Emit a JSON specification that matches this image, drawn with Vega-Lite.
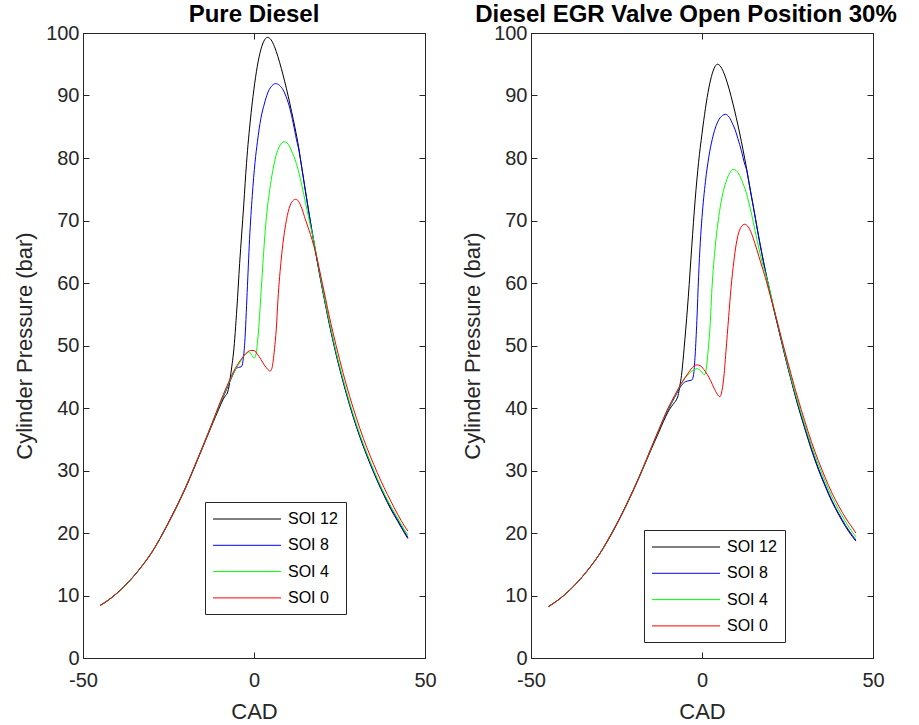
{
  "$schema": "https://vega.github.io/schema/vega-lite/v6.json",
  "background": "white",
  "padding": {"left": 13, "top": 2, "right": 0, "bottom": 0},
  "bounds": "flush",
  "spacing": 106,
  "config": {
    "view": {"stroke": "#262626", "strokeWidth": 1},
    "font": "Liberation Sans",
    "axis": {"grid": false, "domainColor": "#262626", "tickColor": "#262626", "labelColor": "#262626", "titleColor": "#262626", "labelFont": "Liberation Sans", "titleFont": "Liberation Sans", "labelFontSize": 20, "titleFontSize": 22, "titleFontWeight": "normal", "tickSize": -6, "domainWidth": 1, "tickWidth": 1, "labelFlush": false, "labelExpr": "toString(datum.value)"}
  },
  "data": {"values": [
{"panel":"A","soi":"SOI 12","cad":-45,"p":8.4},{"panel":"A","soi":"SOI 12","cad":-42.5,"p":9.3},{"panel":"A","soi":"SOI 12","cad":-40,"p":10.4},{"panel":"A","soi":"SOI 12","cad":-37.5,"p":11.7},{"panel":"A","soi":"SOI 12","cad":-35,"p":13.2},{"panel":"A","soi":"SOI 12","cad":-32.5,"p":14.9},{"panel":"A","soi":"SOI 12","cad":-30,"p":16.8},{"panel":"A","soi":"SOI 12","cad":-27.5,"p":19.1},{"panel":"A","soi":"SOI 12","cad":-25,"p":21.6},{"panel":"A","soi":"SOI 12","cad":-22.5,"p":24.3},{"panel":"A","soi":"SOI 12","cad":-20,"p":27.2},{"panel":"A","soi":"SOI 12","cad":-17.5,"p":30.4},{"panel":"A","soi":"SOI 12","cad":-15,"p":33.7},{"panel":"A","soi":"SOI 12","cad":-12.5,"p":37.0},{"panel":"A","soi":"SOI 12","cad":-10,"p":40.2},{"panel":"A","soi":"SOI 12","cad":-9,"p":41.4},{"panel":"A","soi":"SOI 12","cad":-8.3,"p":42.0},{"panel":"A","soi":"SOI 12","cad":-7.8,"p":42.4},{"panel":"A","soi":"SOI 12","cad":-7.4,"p":43.2},{"panel":"A","soi":"SOI 12","cad":-7,"p":44.6},{"panel":"A","soi":"SOI 12","cad":-6.5,"p":46.6},{"panel":"A","soi":"SOI 12","cad":-6,"p":48.8},{"panel":"A","soi":"SOI 12","cad":-5,"p":56},{"panel":"A","soi":"SOI 12","cad":-4.2,"p":63.1},{"panel":"A","soi":"SOI 12","cad":-3,"p":72.5},{"panel":"A","soi":"SOI 12","cad":-2.2,"p":79.1},{"panel":"A","soi":"SOI 12","cad":-1,"p":86.4},{"panel":"A","soi":"SOI 12","cad":-0.3,"p":89.8},{"panel":"A","soi":"SOI 12","cad":0.7,"p":93.8},{"panel":"A","soi":"SOI 12","cad":1.7,"p":96.7},{"panel":"A","soi":"SOI 12","cad":2.8,"p":98.6},{"panel":"A","soi":"SOI 12","cad":3.9,"p":99.3},{"panel":"A","soi":"SOI 12","cad":5,"p":98.9},{"panel":"A","soi":"SOI 12","cad":6,"p":97.8},{"panel":"A","soi":"SOI 12","cad":7,"p":96.2},{"panel":"A","soi":"SOI 12","cad":8,"p":94.3},{"panel":"A","soi":"SOI 12","cad":9,"p":92.2},{"panel":"A","soi":"SOI 12","cad":10,"p":89.9},{"panel":"A","soi":"SOI 12","cad":11,"p":87.4},{"panel":"A","soi":"SOI 12","cad":12,"p":84.8},{"panel":"A","soi":"SOI 12","cad":13,"p":81.9},{"panel":"A","soi":"SOI 12","cad":14,"p":78.3},{"panel":"A","soi":"SOI 12","cad":15,"p":74.8},{"panel":"A","soi":"SOI 12","cad":16,"p":71.4},{"panel":"A","soi":"SOI 12","cad":17,"p":68.1},{"panel":"A","soi":"SOI 12","cad":18,"p":65.0},{"panel":"A","soi":"SOI 12","cad":19,"p":61.9},{"panel":"A","soi":"SOI 12","cad":20,"p":59.0},{"panel":"A","soi":"SOI 12","cad":21,"p":56.2},{"panel":"A","soi":"SOI 12","cad":22,"p":53.5},{"panel":"A","soi":"SOI 12","cad":23,"p":51.0},{"panel":"A","soi":"SOI 12","cad":24,"p":48.6},{"panel":"A","soi":"SOI 12","cad":25,"p":46.4},{"panel":"A","soi":"SOI 12","cad":26,"p":44.3},{"panel":"A","soi":"SOI 12","cad":27,"p":42.3},{"panel":"A","soi":"SOI 12","cad":28,"p":40.4},{"panel":"A","soi":"SOI 12","cad":30,"p":36.9},{"panel":"A","soi":"SOI 12","cad":32,"p":33.8},{"panel":"A","soi":"SOI 12","cad":34,"p":31.0},{"panel":"A","soi":"SOI 12","cad":36,"p":28.4},{"panel":"A","soi":"SOI 12","cad":38,"p":26.0},{"panel":"A","soi":"SOI 12","cad":40,"p":23.8},{"panel":"A","soi":"SOI 12","cad":42,"p":21.9},{"panel":"A","soi":"SOI 12","cad":44,"p":20.0},{"panel":"A","soi":"SOI 12","cad":45,"p":19.1},

{"panel":"A","soi":"SOI 8","cad":-45,"p":8.4},{"panel":"A","soi":"SOI 8","cad":-42.5,"p":9.3},{"panel":"A","soi":"SOI 8","cad":-40,"p":10.4},{"panel":"A","soi":"SOI 8","cad":-37.5,"p":11.7},{"panel":"A","soi":"SOI 8","cad":-35,"p":13.2},{"panel":"A","soi":"SOI 8","cad":-32.5,"p":14.9},{"panel":"A","soi":"SOI 8","cad":-30,"p":16.8},{"panel":"A","soi":"SOI 8","cad":-27.5,"p":19.1},{"panel":"A","soi":"SOI 8","cad":-25,"p":21.7},{"panel":"A","soi":"SOI 8","cad":-22.5,"p":24.4},{"panel":"A","soi":"SOI 8","cad":-20,"p":27.3},{"panel":"A","soi":"SOI 8","cad":-17.5,"p":30.5},{"panel":"A","soi":"SOI 8","cad":-15,"p":33.8},{"panel":"A","soi":"SOI 8","cad":-12.5,"p":37.2},{"panel":"A","soi":"SOI 8","cad":-10,"p":40.5},{"panel":"A","soi":"SOI 8","cad":-8,"p":43.0},{"panel":"A","soi":"SOI 8","cad":-6,"p":45.5},{"panel":"A","soi":"SOI 8","cad":-5.2,"p":46.3},{"panel":"A","soi":"SOI 8","cad":-4.5,"p":46.5},{"panel":"A","soi":"SOI 8","cad":-3.7,"p":46.6},{"panel":"A","soi":"SOI 8","cad":-3.2,"p":47.6},{"panel":"A","soi":"SOI 8","cad":-2.7,"p":50.5},{"panel":"A","soi":"SOI 8","cad":-2,"p":58.5},{"panel":"A","soi":"SOI 8","cad":-1.3,"p":67},{"panel":"A","soi":"SOI 8","cad":-0.5,"p":74},{"panel":"A","soi":"SOI 8","cad":0.3,"p":79.3},{"panel":"A","soi":"SOI 8","cad":1,"p":82.6},{"panel":"A","soi":"SOI 8","cad":2,"p":86.3},{"panel":"A","soi":"SOI 8","cad":3.1,"p":88.8},{"panel":"A","soi":"SOI 8","cad":4,"p":90.4},{"panel":"A","soi":"SOI 8","cad":5,"p":91.4},{"panel":"A","soi":"SOI 8","cad":6.3,"p":91.9},{"panel":"A","soi":"SOI 8","cad":7.5,"p":91.6},{"panel":"A","soi":"SOI 8","cad":8.5,"p":90.9},{"panel":"A","soi":"SOI 8","cad":9.4,"p":89.8},{"panel":"A","soi":"SOI 8","cad":10.5,"p":87.9},{"panel":"A","soi":"SOI 8","cad":11.5,"p":85.5},{"panel":"A","soi":"SOI 8","cad":12.4,"p":83.0},{"panel":"A","soi":"SOI 8","cad":13,"p":81.6},{"panel":"A","soi":"SOI 8","cad":14,"p":78.4},{"panel":"A","soi":"SOI 8","cad":15,"p":74.9},{"panel":"A","soi":"SOI 8","cad":16,"p":71.5},{"panel":"A","soi":"SOI 8","cad":17,"p":68.2},{"panel":"A","soi":"SOI 8","cad":18,"p":65.1},{"panel":"A","soi":"SOI 8","cad":19,"p":62.0},{"panel":"A","soi":"SOI 8","cad":20,"p":59.1},{"panel":"A","soi":"SOI 8","cad":21,"p":56.3},{"panel":"A","soi":"SOI 8","cad":22,"p":53.6},{"panel":"A","soi":"SOI 8","cad":23,"p":51.1},{"panel":"A","soi":"SOI 8","cad":24,"p":48.7},{"panel":"A","soi":"SOI 8","cad":25,"p":46.5},{"panel":"A","soi":"SOI 8","cad":26,"p":44.4},{"panel":"A","soi":"SOI 8","cad":27,"p":42.4},{"panel":"A","soi":"SOI 8","cad":28,"p":40.5},{"panel":"A","soi":"SOI 8","cad":30,"p":37.0},{"panel":"A","soi":"SOI 8","cad":32,"p":33.9},{"panel":"A","soi":"SOI 8","cad":34,"p":31.1},{"panel":"A","soi":"SOI 8","cad":36,"p":28.5},{"panel":"A","soi":"SOI 8","cad":38,"p":26.2},{"panel":"A","soi":"SOI 8","cad":40,"p":24.0},{"panel":"A","soi":"SOI 8","cad":42,"p":22.1},{"panel":"A","soi":"SOI 8","cad":44,"p":20.2},{"panel":"A","soi":"SOI 8","cad":45,"p":19.3},

{"panel":"A","soi":"SOI 4","cad":-45,"p":8.4},{"panel":"A","soi":"SOI 4","cad":-42.5,"p":9.3},{"panel":"A","soi":"SOI 4","cad":-40,"p":10.4},{"panel":"A","soi":"SOI 4","cad":-37.5,"p":11.7},{"panel":"A","soi":"SOI 4","cad":-35,"p":13.2},{"panel":"A","soi":"SOI 4","cad":-32.5,"p":14.9},{"panel":"A","soi":"SOI 4","cad":-30,"p":16.8},{"panel":"A","soi":"SOI 4","cad":-27.5,"p":19.1},{"panel":"A","soi":"SOI 4","cad":-25,"p":21.7},{"panel":"A","soi":"SOI 4","cad":-22.5,"p":24.4},{"panel":"A","soi":"SOI 4","cad":-20,"p":27.3},{"panel":"A","soi":"SOI 4","cad":-17.5,"p":30.5},{"panel":"A","soi":"SOI 4","cad":-15,"p":33.8},{"panel":"A","soi":"SOI 4","cad":-12.5,"p":37.2},{"panel":"A","soi":"SOI 4","cad":-10,"p":40.6},{"panel":"A","soi":"SOI 4","cad":-8,"p":43.2},{"panel":"A","soi":"SOI 4","cad":-6,"p":45.6},{"panel":"A","soi":"SOI 4","cad":-4,"p":47.4},{"panel":"A","soi":"SOI 4","cad":-3,"p":48.3},{"panel":"A","soi":"SOI 4","cad":-2,"p":48.8},{"panel":"A","soi":"SOI 4","cad":-1.5,"p":49.0},{"panel":"A","soi":"SOI 4","cad":-0.8,"p":48.6},{"panel":"A","soi":"SOI 4","cad":0,"p":48.0},{"panel":"A","soi":"SOI 4","cad":0.4,"p":48.2},{"panel":"A","soi":"SOI 4","cad":0.8,"p":49.4},{"panel":"A","soi":"SOI 4","cad":1.2,"p":51.5},{"panel":"A","soi":"SOI 4","cad":1.6,"p":54.5},{"panel":"A","soi":"SOI 4","cad":2.1,"p":58.8},{"panel":"A","soi":"SOI 4","cad":2.6,"p":63.1},{"panel":"A","soi":"SOI 4","cad":3.5,"p":69.8},{"panel":"A","soi":"SOI 4","cad":4.6,"p":74.9},{"panel":"A","soi":"SOI 4","cad":5.5,"p":78.0},{"panel":"A","soi":"SOI 4","cad":6.5,"p":80.5},{"panel":"A","soi":"SOI 4","cad":7.5,"p":81.9},{"panel":"A","soi":"SOI 4","cad":8.8,"p":82.6},{"panel":"A","soi":"SOI 4","cad":10,"p":82.2},{"panel":"A","soi":"SOI 4","cad":11,"p":81.1},{"panel":"A","soi":"SOI 4","cad":12.4,"p":79.1},{"panel":"A","soi":"SOI 4","cad":13.5,"p":76.8},{"panel":"A","soi":"SOI 4","cad":14.5,"p":74.3},{"panel":"A","soi":"SOI 4","cad":15.5,"p":71.7},{"panel":"A","soi":"SOI 4","cad":16.5,"p":69.1},{"panel":"A","soi":"SOI 4","cad":17.3,"p":67.3},{"panel":"A","soi":"SOI 4","cad":18,"p":65.3},{"panel":"A","soi":"SOI 4","cad":19,"p":62.2},{"panel":"A","soi":"SOI 4","cad":20,"p":59.3},{"panel":"A","soi":"SOI 4","cad":21,"p":56.5},{"panel":"A","soi":"SOI 4","cad":22,"p":53.9},{"panel":"A","soi":"SOI 4","cad":23,"p":51.4},{"panel":"A","soi":"SOI 4","cad":24,"p":49.0},{"panel":"A","soi":"SOI 4","cad":25,"p":46.8},{"panel":"A","soi":"SOI 4","cad":26,"p":44.7},{"panel":"A","soi":"SOI 4","cad":27,"p":42.7},{"panel":"A","soi":"SOI 4","cad":28,"p":40.8},{"panel":"A","soi":"SOI 4","cad":30,"p":37.3},{"panel":"A","soi":"SOI 4","cad":32,"p":34.2},{"panel":"A","soi":"SOI 4","cad":34,"p":31.4},{"panel":"A","soi":"SOI 4","cad":36,"p":28.8},{"panel":"A","soi":"SOI 4","cad":38,"p":26.4},{"panel":"A","soi":"SOI 4","cad":40,"p":24.3},{"panel":"A","soi":"SOI 4","cad":42,"p":22.4},{"panel":"A","soi":"SOI 4","cad":44,"p":20.5},{"panel":"A","soi":"SOI 4","cad":45,"p":19.7},

{"panel":"A","soi":"SOI 0","cad":-45,"p":8.4},{"panel":"A","soi":"SOI 0","cad":-42.5,"p":9.3},{"panel":"A","soi":"SOI 0","cad":-40,"p":10.4},{"panel":"A","soi":"SOI 0","cad":-37.5,"p":11.7},{"panel":"A","soi":"SOI 0","cad":-35,"p":13.2},{"panel":"A","soi":"SOI 0","cad":-32.5,"p":14.9},{"panel":"A","soi":"SOI 0","cad":-30,"p":16.8},{"panel":"A","soi":"SOI 0","cad":-27.5,"p":19.1},{"panel":"A","soi":"SOI 0","cad":-25,"p":21.7},{"panel":"A","soi":"SOI 0","cad":-22.5,"p":24.4},{"panel":"A","soi":"SOI 0","cad":-20,"p":27.3},{"panel":"A","soi":"SOI 0","cad":-17.5,"p":30.5},{"panel":"A","soi":"SOI 0","cad":-15,"p":33.8},{"panel":"A","soi":"SOI 0","cad":-12.5,"p":37.2},{"panel":"A","soi":"SOI 0","cad":-10,"p":40.8},{"panel":"A","soi":"SOI 0","cad":-8,"p":43.4},{"panel":"A","soi":"SOI 0","cad":-6,"p":45.8},{"panel":"A","soi":"SOI 0","cad":-4,"p":47.6},{"panel":"A","soi":"SOI 0","cad":-2,"p":48.9},{"panel":"A","soi":"SOI 0","cad":-1,"p":49.2},{"panel":"A","soi":"SOI 0","cad":0,"p":49.2},{"panel":"A","soi":"SOI 0","cad":1,"p":48.6},{"panel":"A","soi":"SOI 0","cad":2,"p":47.8},{"panel":"A","soi":"SOI 0","cad":3,"p":46.9},{"panel":"A","soi":"SOI 0","cad":4,"p":46.2},{"panel":"A","soi":"SOI 0","cad":4.7,"p":45.9},{"panel":"A","soi":"SOI 0","cad":5.2,"p":46.3},{"panel":"A","soi":"SOI 0","cad":5.6,"p":47.5},{"panel":"A","soi":"SOI 0","cad":6,"p":49.5},{"panel":"A","soi":"SOI 0","cad":6.5,"p":52.5},{"panel":"A","soi":"SOI 0","cad":7,"p":57.3},{"panel":"A","soi":"SOI 0","cad":8,"p":64.0},{"panel":"A","soi":"SOI 0","cad":9,"p":68.5},{"panel":"A","soi":"SOI 0","cad":10,"p":71.4},{"panel":"A","soi":"SOI 0","cad":11,"p":72.9},{"panel":"A","soi":"SOI 0","cad":12.2,"p":73.4},{"panel":"A","soi":"SOI 0","cad":13,"p":73.1},{"panel":"A","soi":"SOI 0","cad":14,"p":71.9},{"panel":"A","soi":"SOI 0","cad":15,"p":70.2},{"panel":"A","soi":"SOI 0","cad":16,"p":68.6},{"panel":"A","soi":"SOI 0","cad":17,"p":66.9},{"panel":"A","soi":"SOI 0","cad":18,"p":64.9},{"panel":"A","soi":"SOI 0","cad":19,"p":62.5},{"panel":"A","soi":"SOI 0","cad":20,"p":59.9},{"panel":"A","soi":"SOI 0","cad":21,"p":57.3},{"panel":"A","soi":"SOI 0","cad":22,"p":54.7},{"panel":"A","soi":"SOI 0","cad":23,"p":52.3},{"panel":"A","soi":"SOI 0","cad":24,"p":50.0},{"panel":"A","soi":"SOI 0","cad":25,"p":47.8},{"panel":"A","soi":"SOI 0","cad":26,"p":45.7},{"panel":"A","soi":"SOI 0","cad":27,"p":43.7},{"panel":"A","soi":"SOI 0","cad":28,"p":41.8},{"panel":"A","soi":"SOI 0","cad":30,"p":38.3},{"panel":"A","soi":"SOI 0","cad":32,"p":35.1},{"panel":"A","soi":"SOI 0","cad":34,"p":32.3},{"panel":"A","soi":"SOI 0","cad":36,"p":29.7},{"panel":"A","soi":"SOI 0","cad":38,"p":27.3},{"panel":"A","soi":"SOI 0","cad":40,"p":25.1},{"panel":"A","soi":"SOI 0","cad":42,"p":23.0},{"panel":"A","soi":"SOI 0","cad":44,"p":21.1},{"panel":"A","soi":"SOI 0","cad":45,"p":20.3},

{"panel":"B","soi":"SOI 12","cad":-45,"p":8.2},{"panel":"B","soi":"SOI 12","cad":-42.5,"p":9.1},{"panel":"B","soi":"SOI 12","cad":-40,"p":10.2},{"panel":"B","soi":"SOI 12","cad":-37.5,"p":11.5},{"panel":"B","soi":"SOI 12","cad":-35,"p":13.0},{"panel":"B","soi":"SOI 12","cad":-32.5,"p":14.7},{"panel":"B","soi":"SOI 12","cad":-30,"p":16.6},{"panel":"B","soi":"SOI 12","cad":-27.5,"p":18.8},{"panel":"B","soi":"SOI 12","cad":-25,"p":21.3},{"panel":"B","soi":"SOI 12","cad":-22.5,"p":24.0},{"panel":"B","soi":"SOI 12","cad":-20,"p":26.9},{"panel":"B","soi":"SOI 12","cad":-17.5,"p":30.0},{"panel":"B","soi":"SOI 12","cad":-15,"p":33.2},{"panel":"B","soi":"SOI 12","cad":-12.5,"p":36.3},{"panel":"B","soi":"SOI 12","cad":-10,"p":39.3},{"panel":"B","soi":"SOI 12","cad":-9,"p":40.2},{"panel":"B","soi":"SOI 12","cad":-8,"p":40.9},{"panel":"B","soi":"SOI 12","cad":-7.5,"p":41.3},{"panel":"B","soi":"SOI 12","cad":-7,"p":42.0},{"panel":"B","soi":"SOI 12","cad":-6.5,"p":43.5},{"panel":"B","soi":"SOI 12","cad":-6,"p":45.2},{"panel":"B","soi":"SOI 12","cad":-5.4,"p":48.5},{"panel":"B","soi":"SOI 12","cad":-5,"p":51.0},{"panel":"B","soi":"SOI 12","cad":-4,"p":57.8},{"panel":"B","soi":"SOI 12","cad":-3,"p":65.8},{"panel":"B","soi":"SOI 12","cad":-2,"p":73.3},{"panel":"B","soi":"SOI 12","cad":-1,"p":79.3},{"panel":"B","soi":"SOI 12","cad":0,"p":83.9},{"panel":"B","soi":"SOI 12","cad":1,"p":87.9},{"panel":"B","soi":"SOI 12","cad":2,"p":91.2},{"panel":"B","soi":"SOI 12","cad":3,"p":93.5},{"panel":"B","soi":"SOI 12","cad":4,"p":94.8},{"panel":"B","soi":"SOI 12","cad":4.5,"p":95.0},{"panel":"B","soi":"SOI 12","cad":5,"p":94.9},{"panel":"B","soi":"SOI 12","cad":6,"p":94.1},{"panel":"B","soi":"SOI 12","cad":7,"p":92.7},{"panel":"B","soi":"SOI 12","cad":8,"p":90.9},{"panel":"B","soi":"SOI 12","cad":9,"p":88.8},{"panel":"B","soi":"SOI 12","cad":10,"p":86.5},{"panel":"B","soi":"SOI 12","cad":11,"p":84.0},{"panel":"B","soi":"SOI 12","cad":12,"p":81.3},{"panel":"B","soi":"SOI 12","cad":13,"p":78.4},{"panel":"B","soi":"SOI 12","cad":14,"p":75.2},{"panel":"B","soi":"SOI 12","cad":15,"p":72.2},{"panel":"B","soi":"SOI 12","cad":16,"p":69.1},{"panel":"B","soi":"SOI 12","cad":17,"p":66.1},{"panel":"B","soi":"SOI 12","cad":18,"p":63.3},{"panel":"B","soi":"SOI 12","cad":19,"p":60.7},{"panel":"B","soi":"SOI 12","cad":20,"p":58.2},{"panel":"B","soi":"SOI 12","cad":21,"p":55.8},{"panel":"B","soi":"SOI 12","cad":22,"p":53.5},{"panel":"B","soi":"SOI 12","cad":23,"p":51.2},{"panel":"B","soi":"SOI 12","cad":24,"p":48.9},{"panel":"B","soi":"SOI 12","cad":25,"p":46.7},{"panel":"B","soi":"SOI 12","cad":26,"p":44.6},{"panel":"B","soi":"SOI 12","cad":27,"p":42.5},{"panel":"B","soi":"SOI 12","cad":28,"p":40.5},{"panel":"B","soi":"SOI 12","cad":30,"p":36.8},{"panel":"B","soi":"SOI 12","cad":32,"p":33.3},{"panel":"B","soi":"SOI 12","cad":34,"p":30.2},{"panel":"B","soi":"SOI 12","cad":36,"p":27.5},{"panel":"B","soi":"SOI 12","cad":38,"p":25.0},{"panel":"B","soi":"SOI 12","cad":40,"p":22.9},{"panel":"B","soi":"SOI 12","cad":42,"p":21.0},{"panel":"B","soi":"SOI 12","cad":44,"p":19.4},{"panel":"B","soi":"SOI 12","cad":45,"p":18.7},

{"panel":"B","soi":"SOI 8","cad":-45,"p":8.2},{"panel":"B","soi":"SOI 8","cad":-42.5,"p":9.1},{"panel":"B","soi":"SOI 8","cad":-40,"p":10.2},{"panel":"B","soi":"SOI 8","cad":-37.5,"p":11.5},{"panel":"B","soi":"SOI 8","cad":-35,"p":13.0},{"panel":"B","soi":"SOI 8","cad":-32.5,"p":14.7},{"panel":"B","soi":"SOI 8","cad":-30,"p":16.6},{"panel":"B","soi":"SOI 8","cad":-27.5,"p":18.9},{"panel":"B","soi":"SOI 8","cad":-25,"p":21.4},{"panel":"B","soi":"SOI 8","cad":-22.5,"p":24.1},{"panel":"B","soi":"SOI 8","cad":-20,"p":27.0},{"panel":"B","soi":"SOI 8","cad":-17.5,"p":30.1},{"panel":"B","soi":"SOI 8","cad":-15,"p":33.4},{"panel":"B","soi":"SOI 8","cad":-12.5,"p":36.6},{"panel":"B","soi":"SOI 8","cad":-10,"p":39.6},{"panel":"B","soi":"SOI 8","cad":-8,"p":41.7},{"panel":"B","soi":"SOI 8","cad":-6,"p":43.6},{"panel":"B","soi":"SOI 8","cad":-4.9,"p":44.2},{"panel":"B","soi":"SOI 8","cad":-3.5,"p":44.4},{"panel":"B","soi":"SOI 8","cad":-2.9,"p":44.5},{"panel":"B","soi":"SOI 8","cad":-2.4,"p":45.6},{"panel":"B","soi":"SOI 8","cad":-2,"p":48.5},{"panel":"B","soi":"SOI 8","cad":-1.5,"p":54.0},{"panel":"B","soi":"SOI 8","cad":-1,"p":61.0},{"panel":"B","soi":"SOI 8","cad":-0.5,"p":66.5},{"panel":"B","soi":"SOI 8","cad":0,"p":70.5},{"panel":"B","soi":"SOI 8","cad":1,"p":76.2},{"panel":"B","soi":"SOI 8","cad":2,"p":80.2},{"panel":"B","soi":"SOI 8","cad":3,"p":83.0},{"panel":"B","soi":"SOI 8","cad":3.9,"p":84.8},{"panel":"B","soi":"SOI 8","cad":5,"p":86.2},{"panel":"B","soi":"SOI 8","cad":6,"p":86.8},{"panel":"B","soi":"SOI 8","cad":6.8,"p":87.0},{"panel":"B","soi":"SOI 8","cad":8,"p":86.5},{"panel":"B","soi":"SOI 8","cad":9,"p":85.4},{"panel":"B","soi":"SOI 8","cad":9.7,"p":84.5},{"panel":"B","soi":"SOI 8","cad":10.5,"p":83.1},{"panel":"B","soi":"SOI 8","cad":11.5,"p":81.2},{"panel":"B","soi":"SOI 8","cad":12.5,"p":79.0},{"panel":"B","soi":"SOI 8","cad":13,"p":78.2},{"panel":"B","soi":"SOI 8","cad":14,"p":75.3},{"panel":"B","soi":"SOI 8","cad":15,"p":72.3},{"panel":"B","soi":"SOI 8","cad":16,"p":69.2},{"panel":"B","soi":"SOI 8","cad":17,"p":66.2},{"panel":"B","soi":"SOI 8","cad":18,"p":63.4},{"panel":"B","soi":"SOI 8","cad":19,"p":60.8},{"panel":"B","soi":"SOI 8","cad":20,"p":58.3},{"panel":"B","soi":"SOI 8","cad":21,"p":55.9},{"panel":"B","soi":"SOI 8","cad":22,"p":53.6},{"panel":"B","soi":"SOI 8","cad":23,"p":51.3},{"panel":"B","soi":"SOI 8","cad":24,"p":49.0},{"panel":"B","soi":"SOI 8","cad":25,"p":46.8},{"panel":"B","soi":"SOI 8","cad":26,"p":44.7},{"panel":"B","soi":"SOI 8","cad":27,"p":42.6},{"panel":"B","soi":"SOI 8","cad":28,"p":40.6},{"panel":"B","soi":"SOI 8","cad":30,"p":37.0},{"panel":"B","soi":"SOI 8","cad":32,"p":33.5},{"panel":"B","soi":"SOI 8","cad":34,"p":30.4},{"panel":"B","soi":"SOI 8","cad":36,"p":27.7},{"panel":"B","soi":"SOI 8","cad":38,"p":25.2},{"panel":"B","soi":"SOI 8","cad":40,"p":23.1},{"panel":"B","soi":"SOI 8","cad":42,"p":21.2},{"panel":"B","soi":"SOI 8","cad":44,"p":19.6},{"panel":"B","soi":"SOI 8","cad":45,"p":18.9},

{"panel":"B","soi":"SOI 4","cad":-45,"p":8.2},{"panel":"B","soi":"SOI 4","cad":-42.5,"p":9.1},{"panel":"B","soi":"SOI 4","cad":-40,"p":10.2},{"panel":"B","soi":"SOI 4","cad":-37.5,"p":11.5},{"panel":"B","soi":"SOI 4","cad":-35,"p":13.0},{"panel":"B","soi":"SOI 4","cad":-32.5,"p":14.7},{"panel":"B","soi":"SOI 4","cad":-30,"p":16.6},{"panel":"B","soi":"SOI 4","cad":-27.5,"p":18.9},{"panel":"B","soi":"SOI 4","cad":-25,"p":21.4},{"panel":"B","soi":"SOI 4","cad":-22.5,"p":24.1},{"panel":"B","soi":"SOI 4","cad":-20,"p":27.0},{"panel":"B","soi":"SOI 4","cad":-17.5,"p":30.1},{"panel":"B","soi":"SOI 4","cad":-15,"p":33.4},{"panel":"B","soi":"SOI 4","cad":-12.5,"p":36.7},{"panel":"B","soi":"SOI 4","cad":-10,"p":39.8},{"panel":"B","soi":"SOI 4","cad":-8,"p":41.9},{"panel":"B","soi":"SOI 4","cad":-6,"p":43.9},{"panel":"B","soi":"SOI 4","cad":-4,"p":45.4},{"panel":"B","soi":"SOI 4","cad":-3,"p":45.9},{"panel":"B","soi":"SOI 4","cad":-2,"p":46.2},{"panel":"B","soi":"SOI 4","cad":-1.5,"p":46.3},{"panel":"B","soi":"SOI 4","cad":-0.5,"p":46.0},{"panel":"B","soi":"SOI 4","cad":0.3,"p":45.5},{"panel":"B","soi":"SOI 4","cad":0.7,"p":45.3},{"panel":"B","soi":"SOI 4","cad":1.1,"p":45.8},{"panel":"B","soi":"SOI 4","cad":1.6,"p":48.0},{"panel":"B","soi":"SOI 4","cad":2,"p":50.5},{"panel":"B","soi":"SOI 4","cad":2.4,"p":53.5},{"panel":"B","soi":"SOI 4","cad":2.9,"p":59.0},{"panel":"B","soi":"SOI 4","cad":3.9,"p":66.0},{"panel":"B","soi":"SOI 4","cad":4.9,"p":70.6},{"panel":"B","soi":"SOI 4","cad":5.8,"p":73.6},{"panel":"B","soi":"SOI 4","cad":6.8,"p":75.8},{"panel":"B","soi":"SOI 4","cad":8,"p":77.5},{"panel":"B","soi":"SOI 4","cad":9.1,"p":78.2},{"panel":"B","soi":"SOI 4","cad":10,"p":78.0},{"panel":"B","soi":"SOI 4","cad":11,"p":77.2},{"panel":"B","soi":"SOI 4","cad":12,"p":75.9},{"panel":"B","soi":"SOI 4","cad":12.7,"p":74.9},{"panel":"B","soi":"SOI 4","cad":13.5,"p":73.3},{"panel":"B","soi":"SOI 4","cad":14.5,"p":71.0},{"panel":"B","soi":"SOI 4","cad":15.5,"p":68.4},{"panel":"B","soi":"SOI 4","cad":16.6,"p":65.6},{"panel":"B","soi":"SOI 4","cad":17.5,"p":63.5},{"panel":"B","soi":"SOI 4","cad":18.5,"p":61.6},{"panel":"B","soi":"SOI 4","cad":19.5,"p":59.6},{"panel":"B","soi":"SOI 4","cad":20,"p":58.5},{"panel":"B","soi":"SOI 4","cad":21,"p":56.1},{"panel":"B","soi":"SOI 4","cad":22,"p":53.8},{"panel":"B","soi":"SOI 4","cad":23,"p":51.5},{"panel":"B","soi":"SOI 4","cad":24,"p":49.2},{"panel":"B","soi":"SOI 4","cad":25,"p":47.0},{"panel":"B","soi":"SOI 4","cad":26,"p":44.9},{"panel":"B","soi":"SOI 4","cad":27,"p":42.9},{"panel":"B","soi":"SOI 4","cad":28,"p":41.0},{"panel":"B","soi":"SOI 4","cad":30,"p":37.4},{"panel":"B","soi":"SOI 4","cad":32,"p":34.0},{"panel":"B","soi":"SOI 4","cad":34,"p":31.0},{"panel":"B","soi":"SOI 4","cad":36,"p":28.3},{"panel":"B","soi":"SOI 4","cad":38,"p":25.8},{"panel":"B","soi":"SOI 4","cad":40,"p":23.7},{"panel":"B","soi":"SOI 4","cad":42,"p":21.8},{"panel":"B","soi":"SOI 4","cad":44,"p":20.1},{"panel":"B","soi":"SOI 4","cad":45,"p":19.4},

{"panel":"B","soi":"SOI 0","cad":-45,"p":8.2},{"panel":"B","soi":"SOI 0","cad":-42.5,"p":9.1},{"panel":"B","soi":"SOI 0","cad":-40,"p":10.2},{"panel":"B","soi":"SOI 0","cad":-37.5,"p":11.5},{"panel":"B","soi":"SOI 0","cad":-35,"p":13.0},{"panel":"B","soi":"SOI 0","cad":-32.5,"p":14.7},{"panel":"B","soi":"SOI 0","cad":-30,"p":16.6},{"panel":"B","soi":"SOI 0","cad":-27.5,"p":18.9},{"panel":"B","soi":"SOI 0","cad":-25,"p":21.4},{"panel":"B","soi":"SOI 0","cad":-22.5,"p":24.1},{"panel":"B","soi":"SOI 0","cad":-20,"p":27.0},{"panel":"B","soi":"SOI 0","cad":-17.5,"p":30.1},{"panel":"B","soi":"SOI 0","cad":-15,"p":33.4},{"panel":"B","soi":"SOI 0","cad":-12.5,"p":36.7},{"panel":"B","soi":"SOI 0","cad":-10,"p":39.9},{"panel":"B","soi":"SOI 0","cad":-8,"p":42.0},{"panel":"B","soi":"SOI 0","cad":-6,"p":44.0},{"panel":"B","soi":"SOI 0","cad":-4,"p":45.6},{"panel":"B","soi":"SOI 0","cad":-2.4,"p":46.7},{"panel":"B","soi":"SOI 0","cad":-1.5,"p":46.9},{"panel":"B","soi":"SOI 0","cad":-0.6,"p":46.8},{"panel":"B","soi":"SOI 0","cad":0.5,"p":46.2},{"panel":"B","soi":"SOI 0","cad":1.5,"p":45.4},{"panel":"B","soi":"SOI 0","cad":2.5,"p":44.4},{"panel":"B","soi":"SOI 0","cad":3.5,"p":43.2},{"panel":"B","soi":"SOI 0","cad":4.5,"p":42.2},{"panel":"B","soi":"SOI 0","cad":5.2,"p":41.8},{"panel":"B","soi":"SOI 0","cad":5.7,"p":42.4},{"panel":"B","soi":"SOI 0","cad":6.3,"p":44.5},{"panel":"B","soi":"SOI 0","cad":7,"p":49.0},{"panel":"B","soi":"SOI 0","cad":7.8,"p":54.6},{"panel":"B","soi":"SOI 0","cad":8.5,"p":59.3},{"panel":"B","soi":"SOI 0","cad":9.3,"p":63.4},{"panel":"B","soi":"SOI 0","cad":10,"p":66.2},{"panel":"B","soi":"SOI 0","cad":10.7,"p":68.0},{"panel":"B","soi":"SOI 0","cad":11.5,"p":69.0},{"panel":"B","soi":"SOI 0","cad":12.5,"p":69.4},{"panel":"B","soi":"SOI 0","cad":13.5,"p":69.0},{"panel":"B","soi":"SOI 0","cad":14.5,"p":67.9},{"panel":"B","soi":"SOI 0","cad":15.5,"p":66.3},{"panel":"B","soi":"SOI 0","cad":16.6,"p":64.3},{"panel":"B","soi":"SOI 0","cad":17.5,"p":62.7},{"panel":"B","soi":"SOI 0","cad":18.5,"p":60.9},{"panel":"B","soi":"SOI 0","cad":19.5,"p":58.9},{"panel":"B","soi":"SOI 0","cad":20.5,"p":56.9},{"panel":"B","soi":"SOI 0","cad":21.5,"p":54.8},{"panel":"B","soi":"SOI 0","cad":22.5,"p":52.7},{"panel":"B","soi":"SOI 0","cad":23.5,"p":50.6},{"panel":"B","soi":"SOI 0","cad":25,"p":47.5},{"panel":"B","soi":"SOI 0","cad":26,"p":45.5},{"panel":"B","soi":"SOI 0","cad":27,"p":43.5},{"panel":"B","soi":"SOI 0","cad":28,"p":41.6},{"panel":"B","soi":"SOI 0","cad":30,"p":38.0},{"panel":"B","soi":"SOI 0","cad":32,"p":34.6},{"panel":"B","soi":"SOI 0","cad":34,"p":31.6},{"panel":"B","soi":"SOI 0","cad":36,"p":28.9},{"panel":"B","soi":"SOI 0","cad":38,"p":26.4},{"panel":"B","soi":"SOI 0","cad":40,"p":24.3},{"panel":"B","soi":"SOI 0","cad":42,"p":22.4},{"panel":"B","soi":"SOI 0","cad":44,"p":20.8},{"panel":"B","soi":"SOI 0","cad":45,"p":20.0}
  ]},
  "hconcat": [
    {
      "width": 342, "height": 625,
      "title": {"text": "Pure Diesel", "fontSize": 24, "font": "Liberation Sans", "fontWeight": "bold", "color": "#000000", "offset": -6, "anchor": "middle", "dy": -2},
      "transform": [{"filter": "datum.panel == 'A'"}],
      "layer": [
        {
          "mark": {"type": "line", "strokeWidth": 1, "interpolate": "monotone"},
          "encoding": {
            "x": {"field": "cad", "type": "quantitative", "scale": {"domain": [-50, 50], "nice": false}, "axis": {"values": [-50, 0, 50], "title": "CAD", "labelPadding": 18, "titlePadding": 11}},
            "y": {"field": "p", "type": "quantitative", "scale": {"domain": [0, 100], "nice": false}, "axis": {"values": [0,10,20,30,40,50,60,70,80,90,100], "title": "Cylinder Pressure (bar)", "labelPadding": 10, "titlePadding": 9}},
            "color": {"field": "soi", "type": "nominal", "sort": ["SOI 12", "SOI 8", "SOI 4", "SOI 0"], "scale": {"domain": ["SOI 12", "SOI 8", "SOI 4", "SOI 0"], "range": ["#000000", "#0000ff", "#00ff00", "#ff0000"]},
              "legend": {"orient": "none", "legendX": 122, "legendY": 469, "title": null, "symbolType": "M-4,0H4", "symbolSize": 289, "symbolStrokeWidth": 1, "symbolOffset": 25, "labelFontSize": 16, "labelFont": "Liberation Sans", "labelColor": "#000000", "labelOffset": 32, "strokeColor": "#262626", "fillColor": "white", "padding": 8, "rowPadding": 9.3}},
            "order": {"field": "cad", "type": "quantitative"}
          }
        },
        {
          "mark": {"type": "point", "opacity": 0},
          "encoding": {
            "x": {"field": "cad", "type": "quantitative", "axis": {"orient": "top", "values": [-50, 0, 50], "labels": false, "title": null}},
            "y": {"field": "p", "type": "quantitative", "axis": {"orient": "right", "values": [0,10,20,30,40,50,60,70,80,90,100], "labels": false, "title": null}}
          }
        }
      ],
      "resolve": {"axis": {"x": "independent", "y": "independent"}}
    },
    {
      "width": 342, "height": 625,
      "title": {"text": "Diesel EGR Valve Open Position 30%", "fontSize": 24, "font": "Liberation Sans", "fontWeight": "bold", "color": "#000000", "offset": -6, "anchor": "middle", "dx": -16, "dy": -2},
      "transform": [{"filter": "datum.panel == 'B'"}],
      "layer": [
        {
          "mark": {"type": "line", "strokeWidth": 1, "interpolate": "monotone"},
          "encoding": {
            "x": {"field": "cad", "type": "quantitative", "scale": {"domain": [-50, 50], "nice": false}, "axis": {"values": [-50, 0, 50], "title": "CAD", "labelPadding": 18, "titlePadding": 11}},
            "y": {"field": "p", "type": "quantitative", "scale": {"domain": [0, 100], "nice": false}, "axis": {"values": [0,10,20,30,40,50,60,70,80,90,100], "title": "Cylinder Pressure (bar)", "labelPadding": 10, "titlePadding": 9}},
            "color": {"field": "soi", "type": "nominal", "sort": ["SOI 12", "SOI 8", "SOI 4", "SOI 0"], "scale": {"domain": ["SOI 12", "SOI 8", "SOI 4", "SOI 0"], "range": ["#000000", "#0000ff", "#00ff00", "#ff0000"]},
              "legend": {"orient": "none", "legendX": 113, "legendY": 497, "title": null, "symbolType": "M-4,0H4", "symbolSize": 289, "symbolStrokeWidth": 1, "symbolOffset": 25, "labelFontSize": 16, "labelFont": "Liberation Sans", "labelColor": "#000000", "labelOffset": 32, "strokeColor": "#262626", "fillColor": "white", "padding": 8, "rowPadding": 9.3}},
            "order": {"field": "cad", "type": "quantitative"}
          }
        },
        {
          "mark": {"type": "point", "opacity": 0},
          "encoding": {
            "x": {"field": "cad", "type": "quantitative", "axis": {"orient": "top", "values": [-50, 0, 50], "labels": false, "title": null}},
            "y": {"field": "p", "type": "quantitative", "axis": {"orient": "right", "values": [0,10,20,30,40,50,60,70,80,90,100], "labels": false, "title": null}}
          }
        }
      ],
      "resolve": {"axis": {"x": "independent", "y": "independent"}}
    }
  ],
  "resolve": {"legend": {"color": "independent"}}
}
